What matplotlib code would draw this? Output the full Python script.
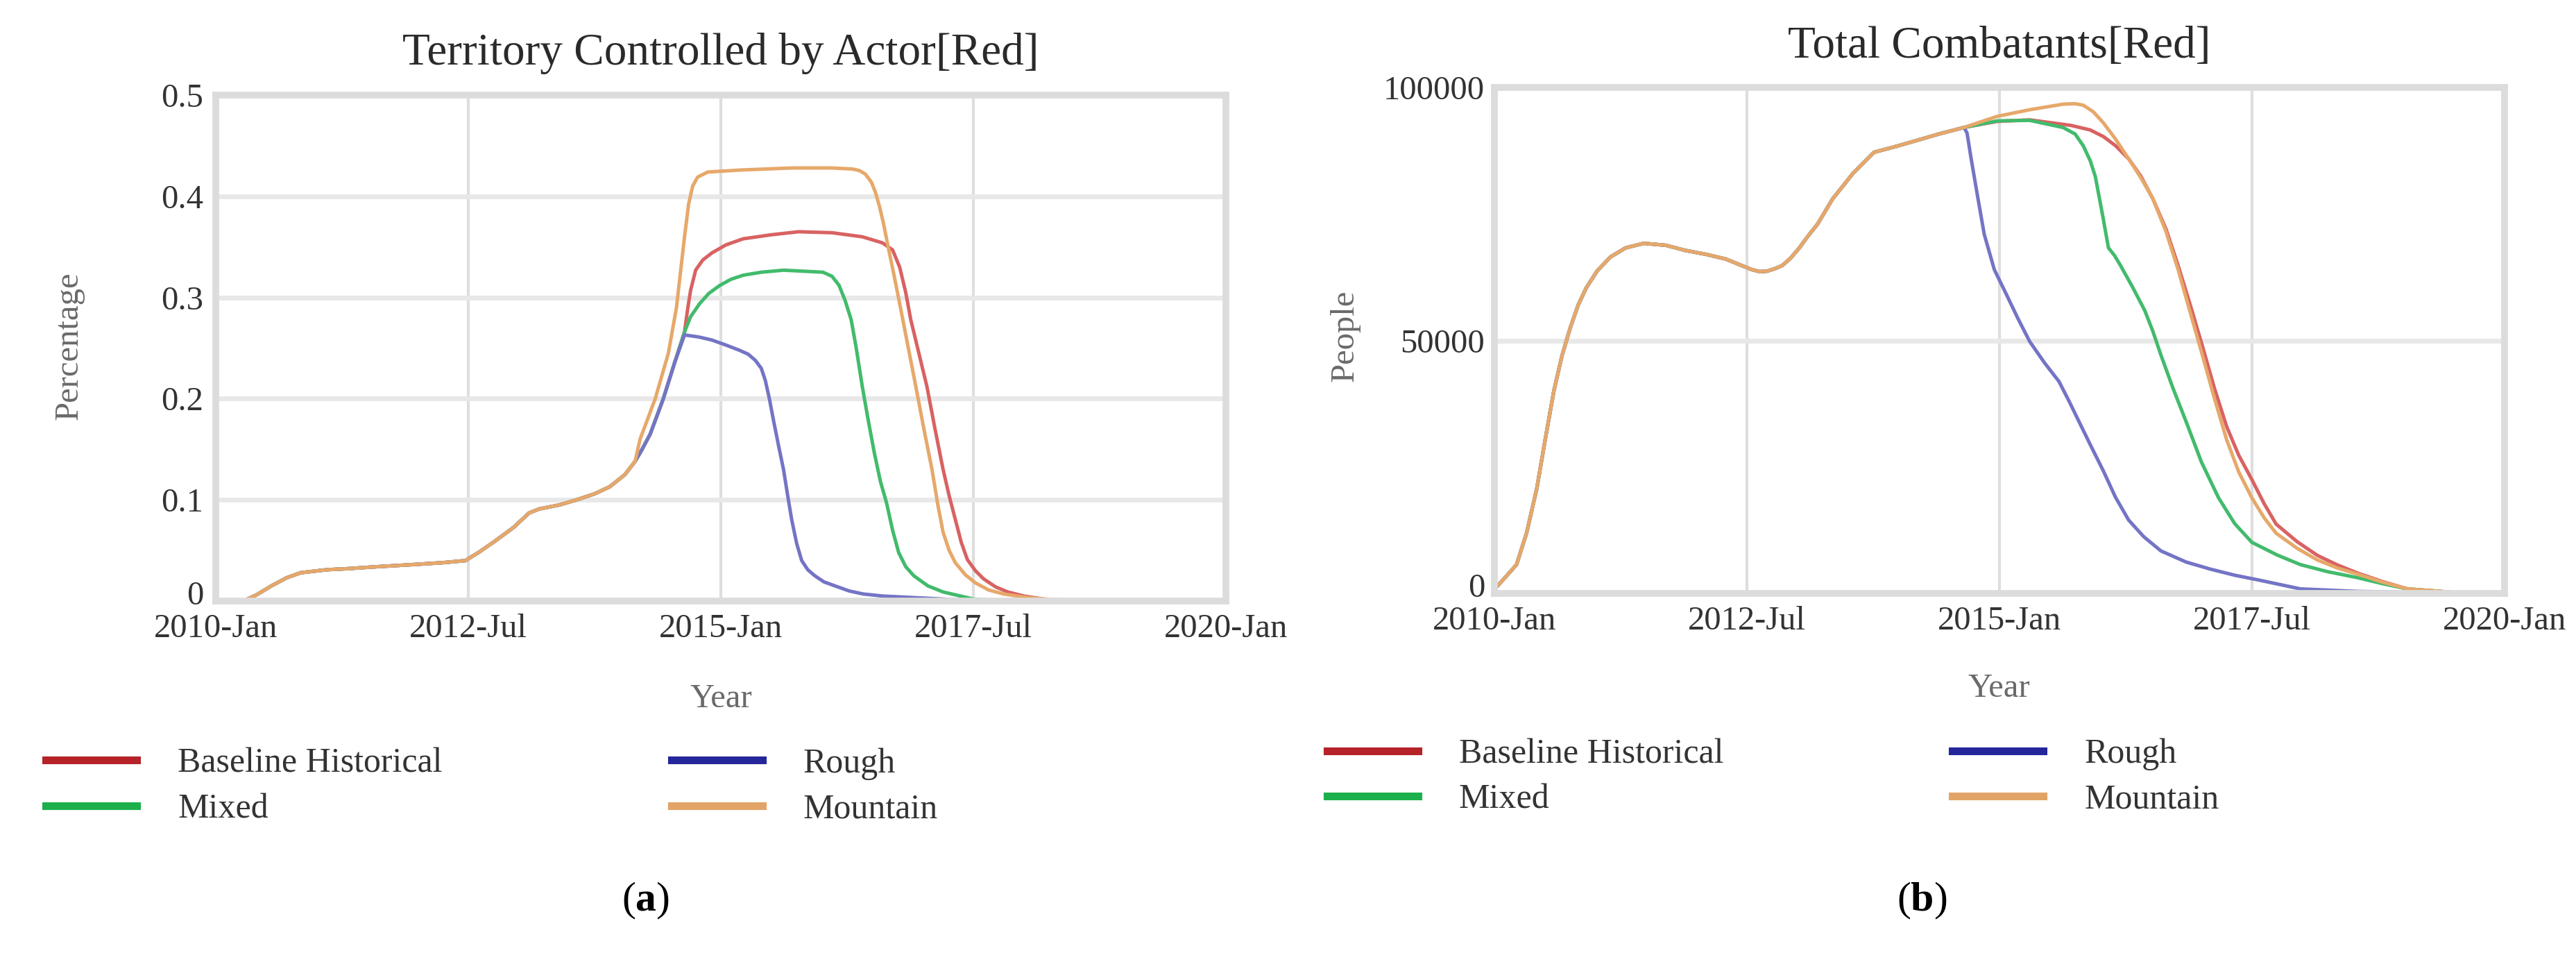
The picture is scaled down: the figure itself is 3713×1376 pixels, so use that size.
import matplotlib
matplotlib.use("Agg")
import matplotlib.pyplot as plt
import matplotlib.transforms as mtransforms
from matplotlib.lines import Line2D

plt.rcParams["font.family"] = ["Liberation Serif", "DejaVu Serif"]
plt.rcParams["mathtext.fontset"] = "custom"
plt.rcParams["mathtext.rm"] = "Liberation Serif"
plt.rcParams["mathtext.bf"] = "Liberation Serif:bold"

# ---- data (decimal years) ----
xticks = [2010.0, 2012.5, 2015.0, 2017.5, 2020.0]
xtick_labels = ["2010-Jan", "2012-Jul", "2015-Jan", "2017-Jul", "2020-Jan"]
series_names = ["Baseline Historical", "Mixed", "Rough", "Mountain"]

# panel (a): territory share, shared part before the scenarios split
terr_common_t = [2010.0, 2010.27, 2010.4, 2010.55, 2010.7, 2010.84, 2011.1, 2011.3, 2011.6,
                 2011.94, 2012.25, 2012.47, 2012.6, 2012.76, 2012.95, 2013.1, 2013.2,
                 2013.4, 2013.57, 2013.75, 2013.9, 2014.05, 2014.15]
terr_common_v = [0.0, 0.0, 0.006, 0.015, 0.023, 0.028, 0.031, 0.032, 0.034,
                 0.036, 0.038, 0.04, 0.048, 0.059, 0.073, 0.087, 0.091,
                 0.095, 0.1, 0.106, 0.113, 0.125, 0.138]

terr_t = {
    "Baseline Historical": [2014.22, 2014.3, 2014.43, 2014.54, 2014.64, 2014.67, 2014.7, 2014.75,
                            2014.82, 2014.91, 2015.05, 2015.22, 2015.5, 2015.77, 2016.1, 2016.4,
                            2016.6, 2016.7, 2016.77, 2016.83, 2016.88, 2016.96, 2017.04, 2017.12,
                            2017.2, 2017.26, 2017.32, 2017.38, 2017.44, 2017.52, 2017.6, 2017.72,
                            2017.84, 2018.0, 2018.19, 2018.6, 2020.0],
    "Mixed": [2014.22, 2014.3, 2014.43, 2014.54, 2014.64, 2014.7, 2014.79, 2014.88, 2014.99,
              2015.1, 2015.22, 2015.4, 2015.62, 2016.01, 2016.1, 2016.17, 2016.23, 2016.29,
              2016.34, 2016.4, 2016.46, 2016.52, 2016.58, 2016.64, 2016.7, 2016.76, 2016.83,
              2016.91, 2017.05, 2017.2, 2017.5, 2017.8, 2020.0],
    "Rough": [2014.22, 2014.3, 2014.43, 2014.54, 2014.64, 2014.78, 2014.91, 2015.05, 2015.18,
              2015.27, 2015.34, 2015.4, 2015.44, 2015.48, 2015.52, 2015.57, 2015.62, 2015.66,
              2015.7, 2015.75, 2015.8, 2015.86, 2015.93, 2016.02, 2016.13, 2016.27, 2016.41,
              2016.6, 2016.8, 2017.39, 2017.8, 2020.0],
    "Mountain": [2014.2, 2014.35, 2014.48, 2014.56, 2014.6, 2014.64, 2014.68, 2014.72, 2014.77,
                 2014.87, 2015.2, 2015.7, 2016.1, 2016.3, 2016.37, 2016.43, 2016.49, 2016.53,
                 2016.57, 2016.61, 2016.65, 2016.71, 2016.77, 2016.85, 2016.93, 2017.01,
                 2017.09, 2017.15, 2017.2, 2017.26, 2017.32, 2017.42, 2017.52, 2017.65,
                 2017.8, 2018.0, 2018.19, 2018.6, 2020.0],
}
terr_v = {
    "Baseline Historical": [0.15, 0.165, 0.2, 0.235, 0.266, 0.288, 0.307, 0.327,
                            0.337, 0.344, 0.352, 0.358, 0.362, 0.365, 0.364, 0.36,
                            0.354, 0.347, 0.33, 0.305, 0.278, 0.245, 0.212, 0.17,
                            0.13, 0.104, 0.081, 0.058, 0.041, 0.03, 0.022, 0.014,
                            0.009, 0.005, 0.002, 0.0, 0.0],
    "Mixed": [0.15, 0.165, 0.2, 0.235, 0.266, 0.281, 0.294, 0.304, 0.312,
              0.318, 0.322, 0.325, 0.327, 0.325, 0.321, 0.312, 0.297, 0.278,
              0.25, 0.212, 0.178, 0.146, 0.118, 0.097, 0.07, 0.048, 0.034,
              0.025, 0.015, 0.009, 0.002, 0.0, 0.0],
    "Rough": [0.15, 0.165, 0.2, 0.235, 0.263, 0.261, 0.258, 0.253, 0.248,
              0.244, 0.238, 0.23, 0.218, 0.2, 0.179, 0.154, 0.13, 0.105,
              0.081, 0.057, 0.04, 0.031, 0.025, 0.019, 0.015, 0.01, 0.007,
              0.005, 0.004, 0.001, 0.0, 0.0],
    "Mountain": [0.16, 0.2, 0.245, 0.29, 0.325, 0.36, 0.392, 0.41, 0.419,
                 0.424, 0.426, 0.428, 0.428, 0.427, 0.4255, 0.422, 0.414, 0.404,
                 0.39, 0.373, 0.353, 0.324, 0.294, 0.253, 0.212, 0.17,
                 0.13, 0.094, 0.068, 0.05, 0.038, 0.026, 0.018, 0.011,
                 0.007, 0.004, 0.002, 0.0, 0.0],
}

# panel (b): total combatants
comb_common_t = [2010.0, 2010.1, 2010.22, 2010.32, 2010.42, 2010.5, 2010.59, 2010.67, 2010.75,
                 2010.83, 2010.91, 2011.02, 2011.15, 2011.3, 2011.48, 2011.7, 2011.89, 2012.1,
                 2012.29, 2012.45, 2012.55, 2012.63, 2012.7, 2012.78, 2012.85, 2012.93,
                 2013.02, 2013.1, 2013.2, 2013.35, 2013.55, 2013.76, 2013.95, 2014.16,
                 2014.4, 2014.65]
comb_common_v = [800, 3000, 5700, 12000, 20700, 30000, 40100, 47000, 52400,
                 57000, 60400, 63800, 66500, 68300, 69200, 68800, 67800, 67000,
                 66100, 64800, 64000, 63600, 63700, 64200, 64800, 66200,
                 68300, 70500, 73000, 78000, 83000, 87200, 88200, 89400,
                 90800, 92100]

comb_t = {
    "Baseline Historical": [2014.98, 2015.3, 2015.71, 2015.9, 2016.03, 2016.15, 2016.28, 2016.4,
                            2016.52, 2016.65, 2016.77, 2016.89, 2017.01, 2017.13, 2017.25,
                            2017.37, 2017.5, 2017.62, 2017.74, 2017.95, 2018.15, 2018.35,
                            2018.55, 2018.8, 2019.04, 2019.5, 2020.0],
    "Mixed": [2014.98, 2015.3, 2015.63, 2015.75, 2015.83, 2015.9, 2015.95, 2016.02, 2016.08,
              2016.14, 2016.2, 2016.32, 2016.44, 2016.52, 2016.6, 2016.72, 2016.85, 2017.0,
              2017.17, 2017.33, 2017.5, 2017.75, 2017.98, 2018.25, 2018.55, 2018.8, 2019.04,
              2019.5, 2020.0],
    "Rough": [2014.68, 2014.72, 2014.78, 2014.85, 2014.95, 2015.06, 2015.18, 2015.3, 2015.45,
              2015.59, 2015.69, 2015.79, 2015.91, 2016.03, 2016.15, 2016.28, 2016.43, 2016.6,
              2016.85, 2017.09, 2017.33, 2017.58, 2017.98, 2018.55, 2019.5, 2020.0],
    "Mountain": [2014.98, 2015.3, 2015.63, 2015.75, 2015.83, 2015.93, 2016.03, 2016.15, 2016.28,
                 2016.4, 2016.52, 2016.65, 2016.77, 2016.89, 2017.01, 2017.13, 2017.25,
                 2017.37, 2017.5, 2017.62, 2017.74, 2017.95, 2018.15, 2018.35, 2018.55,
                 2018.8, 2019.04, 2019.5, 2020.0],
}
comb_v = {
    "Baseline Historical": [93300, 93600, 92500, 91600, 90300, 88500, 85900, 82500,
                            78000, 72000, 64800, 57000, 48900, 40500, 33000,
                            27300, 22500, 17800, 13700, 10200, 7500, 5600,
                            4000, 2300, 900, 200, 0],
    "Mixed": [93400, 93500, 92100, 90800, 88500, 85500, 82400, 75000, 68300,
              66800, 64800, 60500, 55900, 51800, 47100, 40500, 33900, 26000,
              18900, 13800, 10100, 7600, 5700, 4300, 3100, 1900, 900,
              200, 0],
    "Rough": [91000, 86000, 79000, 71000, 64000, 59500, 54500, 49800, 45500,
              41900, 38000, 33900, 29000, 24200, 19000, 14500, 11200, 8400,
              6200, 4800, 3600, 2600, 900, 400, 100, 0],
    "Mountain": [94300, 95600, 96700, 96800, 96500, 95200, 93000, 89800, 85900,
                 82200, 78000, 71500, 64000, 55500, 47100, 38500, 30400,
                 24000, 18900, 15000, 11900, 8900, 6600, 5000, 3800,
                 2200, 900, 200, 0],
}

line_colors = {"Baseline Historical": "#d96262", "Mixed": "#42bb6c",
               "Rough": "#7474c6", "Mountain": "#e6a86a"}
legend_colors = {"Baseline Historical": "#b52228", "Mixed": "#1cb04c",
                 "Rough": "#25259c", "Mountain": "#e2a466"}

TEXT = "#333333"
LABEL = "#6a6a6a"


def style_axes(fig, ax, ylim, yticks, ylabels, ypad):
    ax.set_xlim(2010, 2020)
    ax.set_ylim(*ylim)
    ax.set_xticks(xticks)
    ax.set_xticklabels(xtick_labels)
    ax.set_yticks(yticks)
    ax.set_yticklabels(ylabels)
    ax.tick_params(axis="x", length=0, pad=13, labelsize=35, labelcolor=TEXT)
    ax.tick_params(axis="y", length=0, pad=ypad, labelsize=35, labelcolor=TEXT)
    # the zero label sits a little above its gridline in the original
    lift = mtransforms.ScaledTranslation(0, 12 / 100, fig.dpi_scale_trans)
    zero = ax.get_yticklabels()[0]
    zero.set_transform(zero.get_transform() + lift)
    for sp in ax.spines.values():
        sp.set_color("#dcdcdc")
        sp.set_linewidth(7)
    ax.grid(axis="y", color="#e8e8e8", linewidth=5)
    ax.grid(axis="x", color="#dedede", linewidth=3)
    ax.set_axisbelow(True)


def draw_panel(ax, common_t, common_v, ts, vs):
    for name in series_names:
        t = common_t + ts[name]
        v = common_v + vs[name]
        ax.plot(t, v, color=line_colors[name], lw=3.6,
                solid_capstyle="round", solid_joinstyle="round")


fig = plt.figure(figsize=(37.13, 13.76), dpi=100)
ax1 = fig.add_axes([0.0838, 0.3706, 0.3921, 0.5298])
ax2 = fig.add_axes([0.5801, 0.3786, 0.3921, 0.5298])

draw_panel(ax1, terr_common_t, terr_common_v, terr_t, terr_v)
style_axes(fig, ax1, (0, 0.5), [0, 0.1, 0.2, 0.3, 0.4, 0.5],
           ["0", "0.1", "0.2", "0.3", "0.4", "0.5"], 13)
ax1.set_title("Territory Controlled by Actor[Red]", fontsize=47, color="#2a2a2a", pad=32)
ax1.set_xlabel("Year", fontsize=35, color=LABEL)
ax1.xaxis.set_label_coords(0.5, -0.163)
ax1.set_ylabel("Percentage", fontsize=35, color=LABEL)
ax1.yaxis.set_label_coords(-0.145, 0.505)
ax1.yaxis.label.set_verticalalignment("center")

draw_panel(ax2, comb_common_t, comb_common_v, comb_t, comb_v)
style_axes(fig, ax2, (0, 100000), [0, 50000, 100000], ["0", "50000", "100000"], 10)
ax2.set_title("Total Combatants[Red]", fontsize=47, color="#2a2a2a", pad=31)
ax2.set_xlabel("Year", fontsize=35, color=LABEL)
ax2.xaxis.set_label_coords(0.5, -0.158)
ax2.set_ylabel("People", fontsize=35, color=LABEL)
ax2.yaxis.set_label_coords(-0.148, 0.509)
ax2.yaxis.label.set_verticalalignment("center")

handles = [Line2D([0], [0], color=legend_colors[n], lw=8) for n in series_names]
for anchor in [(0.0178, 0.217), (0.5152, 0.227)]:
    fig.legend(handles, series_names, loc="upper left", bbox_to_anchor=anchor,
               ncol=2, frameon=False, fontsize=36, handlelength=2.62,
               handletextpad=1.18, columnspacing=6.6, labelspacing=0.38,
               borderpad=0, borderaxespad=0, labelcolor=TEXT)

fig.text(0.2505, 0.0567, r"($\mathbf{a}$)", fontsize=43, ha="center", va="center", color="black")
fig.text(0.746, 0.0567, r"($\mathbf{b}$)", fontsize=43, ha="center", va="center", color="black")

fig.savefig("out.png", dpi=100, facecolor="white")
